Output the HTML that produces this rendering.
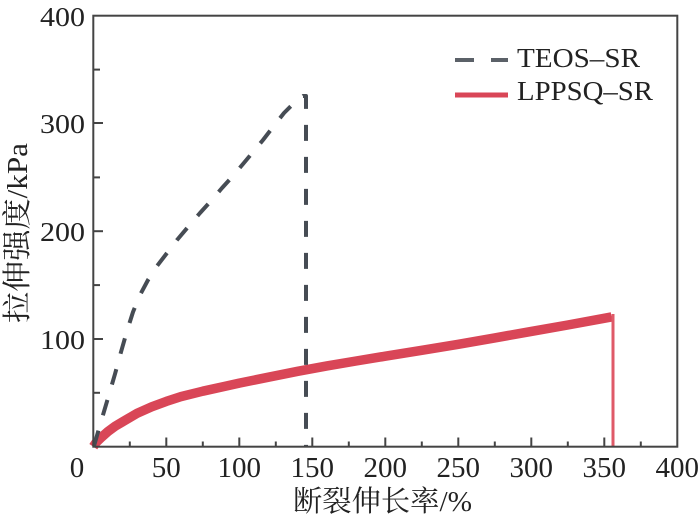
<!DOCTYPE html>
<html>
<head>
<meta charset="utf-8">
<style>
  html,body{margin:0;padding:0;background:#fff;}
  svg{display:block;}
  text{font-family:"Liberation Serif","Noto Serif CJK SC",serif;fill:#222;}
</style>
</head>
<body>
<svg width="700" height="524" viewBox="0 0 700 524" xmlns="http://www.w3.org/2000/svg">
  <rect x="0" y="0" width="700" height="524" fill="#fff"/>

  <!-- Series: LPPSQ-SR (red) -->
  <polyline fill="none" stroke="#d94657" stroke-width="9.5" stroke-linejoin="round" stroke-linecap="butt"
    points="93.3,446.7 96.2,442.4 100.6,438.1 107.9,431.6 115.2,426.2 122.5,421.9 137.1,413.3 151.7,406.8 166.3,401.4 180.9,396.6 202.8,391.2 224.7,386.4 239.3,383.1 268.5,377.2 297.7,371.3 326.9,365.9 356.1,361.0 385.3,356.2 421.8,350.3 458.3,344.3 494.8,337.9 531.3,331.4 567.8,325.0 611.6,316.9"/>
  <line x1="613" y1="314" x2="613" y2="447" stroke="#df5a68" stroke-width="3"/>

  <!-- Series: TEOS-SR (dashed gray) -->
  <polyline fill="none" stroke="#464c54" stroke-width="4" stroke-dasharray="16 16" stroke-linejoin="round"
    points="94,446 100,425 108,398 115,374 121,352 127,331 133,312 140,295 148,280 157,266 167,253 177,240 188,227 200,213 210,202 222,188 232,177 243,164 253,152 263,140 273,127 284,113 295,102 303,96 306,96 306,447"/>

  <!-- Frame -->
  <rect x="93.3" y="15.7" width="584" height="431" fill="none" stroke="#444" stroke-width="2"/>

  <!-- Y ticks -->
  <g stroke="#444" stroke-width="2">
    <line x1="93.3" y1="123" x2="103" y2="123"/>
    <line x1="93.3" y1="231.2" x2="103" y2="231.2"/>
    <line x1="93.3" y1="339" x2="103" y2="339"/>
    <line x1="93.3" y1="69.6" x2="100" y2="69.6"/>
    <line x1="93.3" y1="177.4" x2="100" y2="177.4"/>
    <line x1="93.3" y1="285.1" x2="100" y2="285.1"/>
    <line x1="93.3" y1="392.8" x2="100" y2="392.8"/>
  </g>
  <!-- X ticks -->
  <g stroke="#444" stroke-width="2">
    <line x1="166.3" y1="446.7" x2="166.3" y2="437.5"/>
    <line x1="239.3" y1="446.7" x2="239.3" y2="437.5"/>
    <line x1="312.3" y1="446.7" x2="312.3" y2="437.5"/>
    <line x1="385.3" y1="446.7" x2="385.3" y2="437.5"/>
    <line x1="458.3" y1="446.7" x2="458.3" y2="437.5"/>
    <line x1="531.3" y1="446.7" x2="531.3" y2="437.5"/>
    <line x1="604.3" y1="446.7" x2="604.3" y2="437.5"/>
    <line x1="129.8" y1="446.7" x2="129.8" y2="441.5"/>
    <line x1="202.8" y1="446.7" x2="202.8" y2="441.5"/>
    <line x1="275.8" y1="446.7" x2="275.8" y2="441.5"/>
    <line x1="348.8" y1="446.7" x2="348.8" y2="441.5"/>
    <line x1="421.8" y1="446.7" x2="421.8" y2="441.5"/>
    <line x1="494.8" y1="446.7" x2="494.8" y2="441.5"/>
    <line x1="567.8" y1="446.7" x2="567.8" y2="441.5"/>
    <line x1="640.8" y1="446.7" x2="640.8" y2="441.5"/>
  </g>

  <!-- Y tick labels -->
  <g font-size="27" text-anchor="end">
    <text x="85" y="26" textLength="45" lengthAdjust="spacingAndGlyphs">400</text>
    <text x="85" y="133" textLength="45" lengthAdjust="spacingAndGlyphs">300</text>
    <text x="85" y="241" textLength="45" lengthAdjust="spacingAndGlyphs">200</text>
    <text x="85" y="349" textLength="45" lengthAdjust="spacingAndGlyphs">100</text>
  </g>

  <!-- X tick labels -->
  <g font-size="29" text-anchor="middle">
    <text x="77" y="477">0</text>
    <text x="166.3" y="477">50</text>
    <text x="239.3" y="477">100</text>
    <text x="312.3" y="477">150</text>
    <text x="385.3" y="477">200</text>
    <text x="458.3" y="477">250</text>
    <text x="531.3" y="477">300</text>
    <text x="604.3" y="477">350</text>
    <text x="677.3" y="477">400</text>
  </g>

  <!-- Axis titles -->
  <text x="293" y="511" font-size="29" textLength="179" lengthAdjust="spacingAndGlyphs">断裂伸长率/%</text>
  <text transform="translate(27,233) rotate(-90)" font-size="29" text-anchor="middle" textLength="180" lengthAdjust="spacingAndGlyphs">拉伸强度/kPa</text>

  <!-- Legend -->
  <line x1="455" y1="60" x2="474" y2="60" stroke="#5b6168" stroke-width="4"/>
  <line x1="491" y1="60" x2="508" y2="60" stroke="#5b6168" stroke-width="4"/>
  <text x="517" y="67" font-size="27" textLength="123" lengthAdjust="spacingAndGlyphs">TEOS–SR</text>
  <line x1="455" y1="95" x2="508" y2="95" stroke="#d94657" stroke-width="5"/>
  <text x="517" y="100" font-size="27" textLength="136" lengthAdjust="spacingAndGlyphs">LPPSQ–SR</text>
</svg>
</body>
</html>
